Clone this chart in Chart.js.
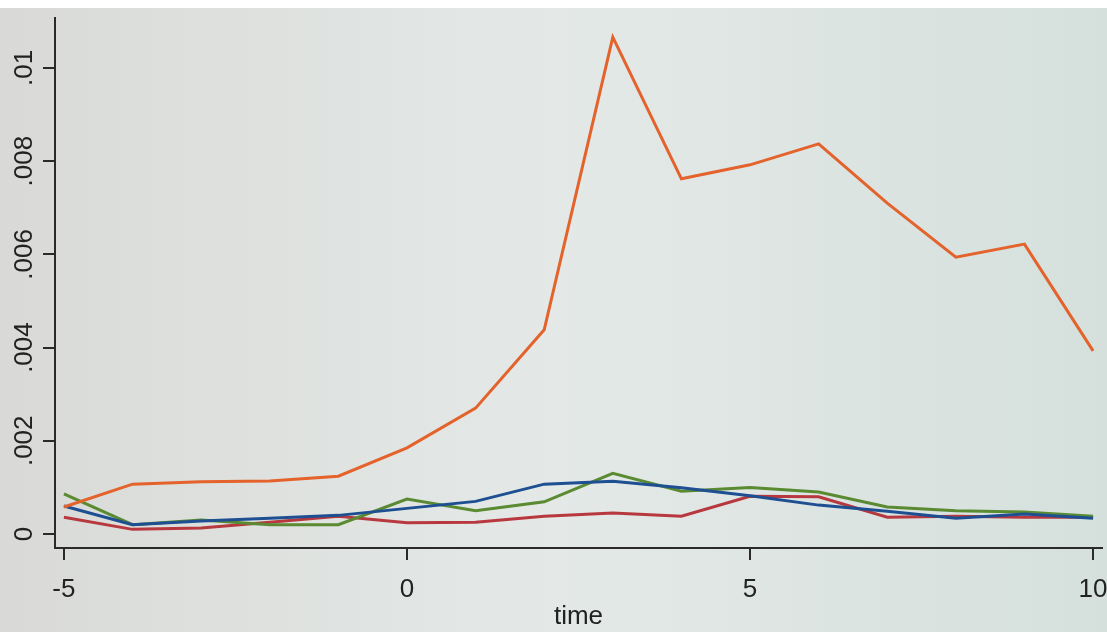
<!DOCTYPE html>
<html lang="en">
<head>
    <meta charset="UTF-8">
    <title>time plot</title>
    <script src="https://cdn.jsdelivr.net/npm/chart.js"></script>
    <style>
        html, body { margin: 0; padding: 0; background: #e2e5e2; }
        #wrap { width: 1107px; height: 632px; }
    </style>
</head>
<body>
    <div id="wrap"><canvas id="myChart" width="1107" height="632"></canvas></div>

    <script>
        // values, one per time step
        const time = [-5, -4, -3, -2, -1, 0, 1, 2, 3, 4, 5, 6, 7, 8, 9, 10];
        const orangeSeries = [0.00058, 0.00107, 0.00112, 0.00114, 0.00124, 0.00185, 0.0027, 0.00438, 0.01066, 0.00762, 0.00792, 0.00837, 0.0071, 0.00594, 0.00622, 0.00393];
        const blueSeries = [0.0006, 0.0002, 0.00028, 0.00034, 0.0004, 0.00055, 0.0007, 0.00107, 0.00113, 0.00099, 0.00082, 0.00062, 0.00049, 0.00034, 0.00043, 0.00034];
        const greenSeries = [0.00086, 0.0002, 0.0003, 0.0002, 0.0002, 0.00075, 0.0005, 0.00069, 0.0013, 0.00092, 0.001, 0.0009, 0.00058, 0.0005, 0.00047, 0.00038];
        const redSeries = [0.00036, 0.0001, 0.00013, 0.00025, 0.00038, 0.00024, 0.00025, 0.00038, 0.00045, 0.00038, 0.00081, 0.0008, 0.00036, 0.00038, 0.00036, 0.00036];
        const yTickLabels = { 0: '0', 0.002: '.002', 0.004: '.004', 0.006: '.006', 0.008: '.008', 0.01: '.01' };

        const toPoints = vals => vals.map((v, i) => ({ x: time[i], y: v }));

        // photo-ish background
        const bgPlugin = {
            id: 'bg',
            beforeDraw(chart) {
                const ctx = chart.ctx;
                const g = ctx.createLinearGradient(0, 0, chart.width, 0);
                g.addColorStop(0, '#d9dad7');
                g.addColorStop(0.5, '#e4e9e7');
                g.addColorStop(1, '#d5e0dd');
                ctx.save();
                ctx.fillStyle = g;
                ctx.fillRect(0, 0, chart.width, chart.height);
                ctx.fillStyle = '#ffffff';
                ctx.fillRect(0, 0, chart.width, 8);
                ctx.restore();
            }
        };

        // stata style vertical y labels
        const yLabelPlugin = {
            id: 'yLabels',
            afterDraw(chart) {
                const ctx = chart.ctx;
                const y = chart.scales.y;
                ctx.save();
                ctx.fillStyle = '#222';
                ctx.font = '26px "Liberation Sans", Arial, sans-serif';
                ctx.textAlign = 'center';
                ctx.textBaseline = 'middle';
                y.ticks.forEach(t => {
                    const key = Math.round(t.value * 1000) / 1000;
                    const label = yTickLabels[key];
                    if (label === undefined) return;
                    ctx.save();
                    ctx.translate(25, y.getPixelForValue(t.value));
                    ctx.rotate(-Math.PI / 2);
                    ctx.fillText(label, 0, 0);
                    ctx.restore();
                });
                ctx.restore();
            }
        };

        const line = (data, color) => ({
            data: toPoints(data),
            borderColor: color,
            borderWidth: 3,
            pointRadius: 0,
            tension: 0,
            fill: false
        });

        new Chart(document.getElementById('myChart'), {
            type: 'line',
            data: {
                datasets: [
                    line(orangeSeries, '#e4622b'),
                    line(blueSeries, '#1d4f92'),
                    line(greenSeries, '#5a8a31'),
                    line(redSeries, '#b8383f')
                ]
            },
            options: {
                responsive: false,
                animation: false,
                layout: { padding: { top: 18, right: 5 } },
                plugins: { legend: { display: false }, tooltip: { enabled: false } },
                scales: {
                    x: {
                        type: 'linear',
                        min: -5.13,
                        max: 10.13,
                        border: { color: '#2a2a2a', width: 2 },
                        grid: { drawOnChartArea: false, drawTicks: true, tickLength: 12, color: '#2a2a2a', lineWidth: 2 },
                        ticks: {
                            stepSize: 5,
                            includeBounds: false,
                            color: '#222',
                            padding: 14,
                            font: { family: '"Liberation Sans", Arial, sans-serif', size: 26 }
                        },
                        title: {
                            display: true,
                            text: 'time',
                            color: '#222',
                            padding: { top: -6, bottom: 0 },
                            font: { family: '"Liberation Sans", Arial, sans-serif', size: 26 }
                        },
                        afterFit(scale) {
                            scale.height = 84;
                            scale.paddingLeft = 0;
                            scale.paddingRight = 0;
                        }
                    },
                    y: {
                        min: -0.0003,
                        max: 0.01107,
                        border: { color: '#2a2a2a', width: 2 },
                        grid: { drawOnChartArea: false, drawTicks: true, tickLength: 12, color: '#2a2a2a', lineWidth: 2 },
                        ticks: { stepSize: 0.002, includeBounds: false, display: false },
                        afterFit(scale) { scale.width = 55; }
                    }
                }
            },
            plugins: [bgPlugin, yLabelPlugin]
        });
    </script>
</body>
</html>
